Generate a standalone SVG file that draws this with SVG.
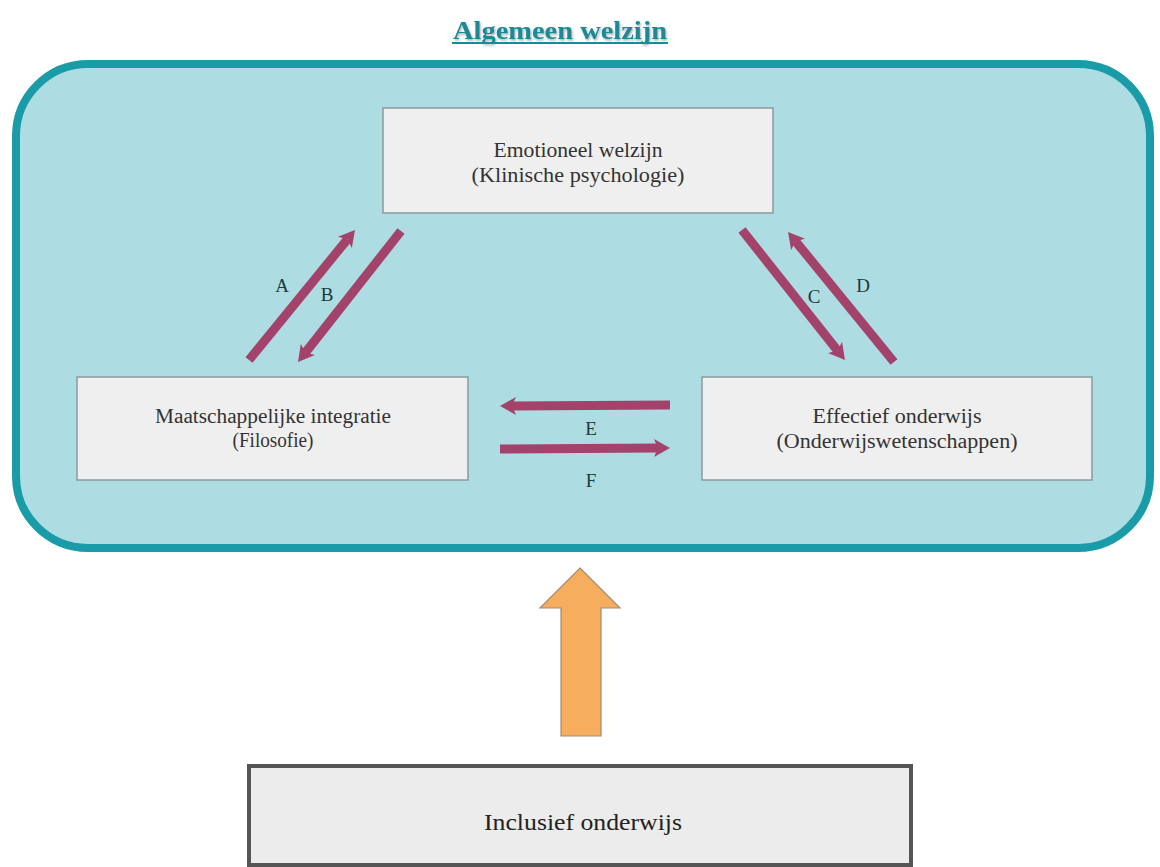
<svg xmlns="http://www.w3.org/2000/svg" width="1160" height="867" viewBox="0 0 1160 867">
<defs>
<style>
.box{fill:#efefef;stroke:#8a9aa0;stroke-width:1.5}
.t{font-family:"Liberation Serif",serif;font-size:20px;fill:#333;text-anchor:middle}
.lbl{font-family:"Liberation Serif",serif;font-size:19px;fill:#1f3a3a;text-anchor:middle}
.arr{stroke:#a3436b;stroke-width:9;fill:none;marker-end:url(#ah)}
</style>
<marker id="ah" markerUnits="userSpaceOnUse" viewBox="0 0 18 20" refX="4" refY="10" markerWidth="18" markerHeight="20" orient="auto">
<path d="M0,1 L16,10 L0,19 L4,10 Z" fill="#a3436b"/>
</marker>
<filter id="sh" x="-10%" y="-30%" width="120%" height="160%">
<feDropShadow dx="1" dy="1.5" stdDeviation="1" flood-color="#000" flood-opacity="0.35"/>
</filter>
</defs>
<rect width="1160" height="867" fill="#ffffff"/>
<g id="title">
<text x="560" y="39" font-family="'Liberation Serif',serif" font-size="25" font-weight="bold" fill="#1a8a96" text-anchor="middle" textLength="214" lengthAdjust="spacingAndGlyphs" filter="url(#sh)">Algemeen welzijn</text>
<line x1="452" y1="43" x2="668" y2="43" stroke="#1a8a96" stroke-width="2"/>
</g>
<g id="container">
<rect x="16" y="64" width="1134" height="484" rx="72" ry="72" fill="#addde2" stroke="#1a9ba8" stroke-width="8"/>
</g>
<g id="node-emotioneel">
<rect class="box" x="383" y="108" width="390" height="105"/>
<text class="t" x="578" y="157" textLength="169" lengthAdjust="spacingAndGlyphs">Emotioneel welzijn</text>
<text class="t" x="578" y="182" textLength="213" lengthAdjust="spacingAndGlyphs">(Klinische psychologie)</text>
</g>
<g id="node-maatschappelijk">
<rect class="box" x="77" y="377" width="391" height="103"/>
<text class="t" x="273" y="423" textLength="236" lengthAdjust="spacingAndGlyphs">Maatschappelijke integratie</text>
<text class="t" x="273" y="447" textLength="81" lengthAdjust="spacingAndGlyphs">(Filosofie)</text>
</g>
<g id="node-effectief">
<rect class="box" x="702" y="377" width="390" height="103"/>
<text class="t" x="897" y="423" textLength="169" lengthAdjust="spacingAndGlyphs">Effectief onderwijs</text>
<text class="t" x="897" y="448" textLength="241" lengthAdjust="spacingAndGlyphs">(Onderwijswetenschappen)</text>
</g>
<g id="connectors">
<line class="arr" x1="249" y1="360" x2="347.4" y2="239.3"/>
<line class="arr" x1="401" y1="231" x2="305.4" y2="352.6"/>
<line class="arr" x1="742" y1="230" x2="837.5" y2="350.6"/>
<line class="arr" x1="894" y1="362" x2="795.6" y2="241.3"/>
<line class="arr" x1="670" y1="405" x2="512" y2="406"/>
<line class="arr" x1="500" y1="449" x2="658" y2="448"/>
<text class="lbl" x="282" y="292">A</text>
<text class="lbl" x="327" y="301">B</text>
<text class="lbl" x="814" y="303">C</text>
<text class="lbl" x="863" y="292">D</text>
<text class="lbl" x="591" y="435">E</text>
<text class="lbl" x="591" y="487">F</text>
<path d="M580,568 L620,608 L601,608 L601,736 L561,736 L561,608 L540,608 Z" fill="#f6ad5e" stroke="#a58a6e" stroke-width="1.2"/>
</g>
<g id="node-inclusief">
<rect x="249" y="766" width="662" height="99" fill="#ececec" stroke="#555" stroke-width="4"/>
<text x="583" y="830" font-family="'Liberation Serif',serif" font-size="24" fill="#222" text-anchor="middle" textLength="198" lengthAdjust="spacingAndGlyphs">Inclusief onderwijs</text>
</g>
</svg>
